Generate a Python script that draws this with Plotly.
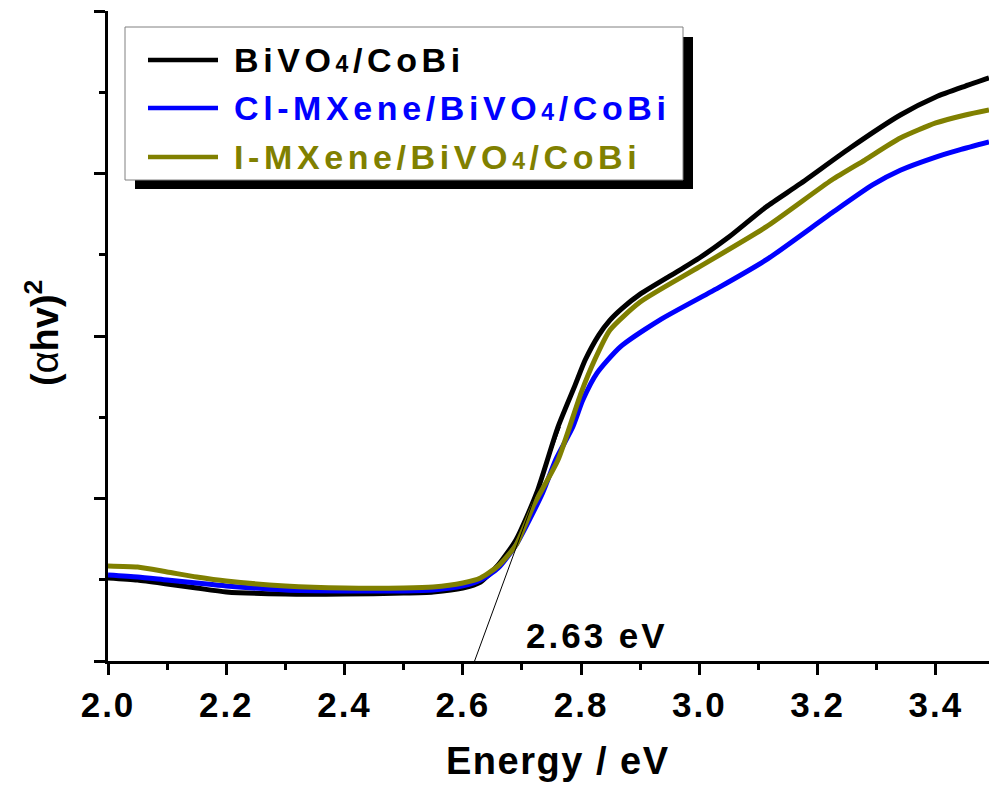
import plotly.graph_objects as go

FONT = "Liberation Sans, Arial, sans-serif"


def spaced(s, ls):
    return "<span style='letter-spacing:%spx'>%s</span>" % (ls, s)


SUB4 = "<span style='font-size:23px'>4</span>"
series_names = ["BiVO" + SUB4 + "/CoBi",
                "Cl-MXene/BiVO" + SUB4 + "/CoBi",
                "I-MXene/BiVO" + SUB4 + "/CoBi"]
series_colors = ["#000000", "#0000FF", "#808000"]

black_x = [2.00, 2.05, 2.10, 2.15, 2.20, 2.30, 2.40, 2.50, 2.55, 2.60, 2.63, 2.66, 2.69, 2.725, 2.761,
           2.79, 2.807, 2.83, 2.849, 2.87, 2.90, 2.967, 3.00, 3.05, 3.113, 3.17, 3.255, 3.34, 3.40, 3.45, 3.49]
black_y = [0.511, 0.498, 0.474, 0.449, 0.425, 0.412, 0.412, 0.418, 0.425, 0.449, 0.486, 0.591, 0.745, 1.034, 1.440,
           1.698, 1.852, 2.006, 2.098, 2.172, 2.258, 2.406, 2.480, 2.609, 2.794, 2.935, 3.157, 3.360, 3.471, 3.538, 3.588]

blue_x = [2.00, 2.05, 2.10, 2.15, 2.20, 2.30, 2.40, 2.50, 2.55, 2.60, 2.63, 2.66, 2.69, 2.735, 2.757,
          2.786, 2.803, 2.827, 2.866, 2.933, 3.035, 3.113, 3.224, 3.293, 3.34, 3.395, 3.44, 3.49]
blue_y = [0.529, 0.517, 0.498, 0.480, 0.462, 0.437, 0.431, 0.431, 0.437, 0.462, 0.498, 0.572, 0.714, 1.034, 1.237,
          1.440, 1.606, 1.772, 1.932, 2.098, 2.302, 2.468, 2.757, 2.930, 3.020, 3.095, 3.145, 3.194]

olive_x = [2.00, 2.05, 2.10, 2.15, 2.20, 2.30, 2.40, 2.50, 2.55, 2.60, 2.63, 2.66, 2.69, 2.72, 2.761,
           2.80, 2.823, 2.849, 2.90, 3.00, 3.113, 3.224, 3.28, 3.34, 3.40, 3.45, 3.49]
olive_y = [0.585, 0.578, 0.548, 0.517, 0.492, 0.462, 0.449, 0.449, 0.455, 0.480, 0.511, 0.585, 0.714, 0.960, 1.237,
           1.649, 1.852, 2.037, 2.209, 2.425, 2.671, 2.960, 3.083, 3.218, 3.311, 3.360, 3.391]

tangent_x = [2.62, 2.765]
tangent_y = [0.0, 1.44]
gap_label = "2.63 eV"
gap_label_pos = (2.827, 0.16)

x_ticks = [2.0, 2.2, 2.4, 2.6, 2.8, 3.0, 3.2, 3.4]
x_tick_text = ["2.0", "2.2", "2.4", "2.6", "2.8", "3.0", "3.2", "3.4"]
x_title = "Energy / eV"
y_title = "<b>(</b>α<b>hv)</b><sup><b>2</b></sup>"

W, H = 989, 785
L, R, T, B = 108, 0, 11, 124
PW, PH = W - L - R, H - T - B


def px(xp):
    return (xp - L) / PW


def py(yp):
    return (H - B - yp) / PH


fig = go.Figure()
for xs, ys, nm, col in zip([black_x, blue_x, olive_x], [black_y, blue_y, olive_y], series_names, series_colors):
    fig.add_trace(go.Scatter(x=xs, y=ys, mode="lines", name=nm, showlegend=False,
                             line=dict(color=col, width=5, shape="spline", smoothing=0.6)))

fig.add_trace(go.Scatter(x=tangent_x, y=tangent_y, mode="lines", showlegend=False,
                         line=dict(color="black", width=1)))

fig.add_annotation(x=gap_label_pos[0], y=gap_label_pos[1], text=spaced(gap_label, 3), showarrow=False,
                   font=dict(family=FONT, size=35, color="black", weight="bold"))

# axis titles
fig.add_annotation(xref="paper", yref="paper", x=px(557), y=py(761), xanchor="center", yanchor="middle",
                   text=spaced(x_title, 1.5), showarrow=False,
                   font=dict(family=FONT, size=38, color="black", weight="bold"))
fig.add_annotation(xref="paper", yref="paper", x=px(42), y=py(333), xanchor="center", yanchor="middle",
                   text=y_title, textangle=-90, showarrow=False,
                   font=dict(family=FONT, size=38, color="black"))

# legend box with drop shadow
shapes = [
    dict(type="rect", xref="paper", yref="paper", x0=px(135), x1=px(693), y0=py(189), y1=py(37),
         fillcolor="black", line=dict(width=0), layer="above"),
    dict(type="rect", xref="paper", yref="paper", x0=px(125), x1=px(683), y0=py(180), y1=py(27),
         fillcolor="white", line=dict(color="#808080", width=1), layer="above"),
]
rows = [60, 108, 157]
for r, nm, col in zip(rows, series_names, series_colors):
    shapes.append(dict(type="line", xref="paper", yref="paper", x0=px(148), x1=px(218), y0=py(r), y1=py(r),
                       line=dict(color=col, width=4.5), layer="above"))
    fig.add_annotation(xref="paper", yref="paper", x=px(232), y=py(r), xanchor="left", yanchor="middle",
                       text=spaced(nm, 4.6), showarrow=False,
                       font=dict(family=FONT, size=34, color=col, weight="bold"))
fig.update_layout(shapes=shapes)

fig.update_xaxes(range=[2.0, 3.49], tickvals=x_ticks, ticktext=[spaced(t, 2) for t in x_tick_text],
                 ticks="outside", ticklen=11, tickwidth=2.5, tickcolor="black",
                 minor=dict(dtick=0.1, tick0=2.0, ticks="outside", ticklen=6, tickwidth=2.5, tickcolor="black"),
                 showline=True, linewidth=3, linecolor="black", showgrid=False, zeroline=False,
                 tickfont=dict(family=FONT, size=35, color="black", weight="bold"),
                 automargin=False)
fig.update_yaxes(range=[0, 4], dtick=1, tick0=0, showticklabels=False,
                 ticks="outside", ticklen=11, tickwidth=2.5, tickcolor="black",
                 minor=dict(dtick=0.5, ticks="outside", ticklen=6, tickwidth=2.5, tickcolor="black"),
                 showline=True, linewidth=3, linecolor="black", showgrid=False, zeroline=False,
                 automargin=False)

fig.update_layout(width=W, height=H, margin=dict(l=L, r=R, t=T, b=B),
                  paper_bgcolor="white", plot_bgcolor="white", showlegend=False)

fig.write_html("out.html")
